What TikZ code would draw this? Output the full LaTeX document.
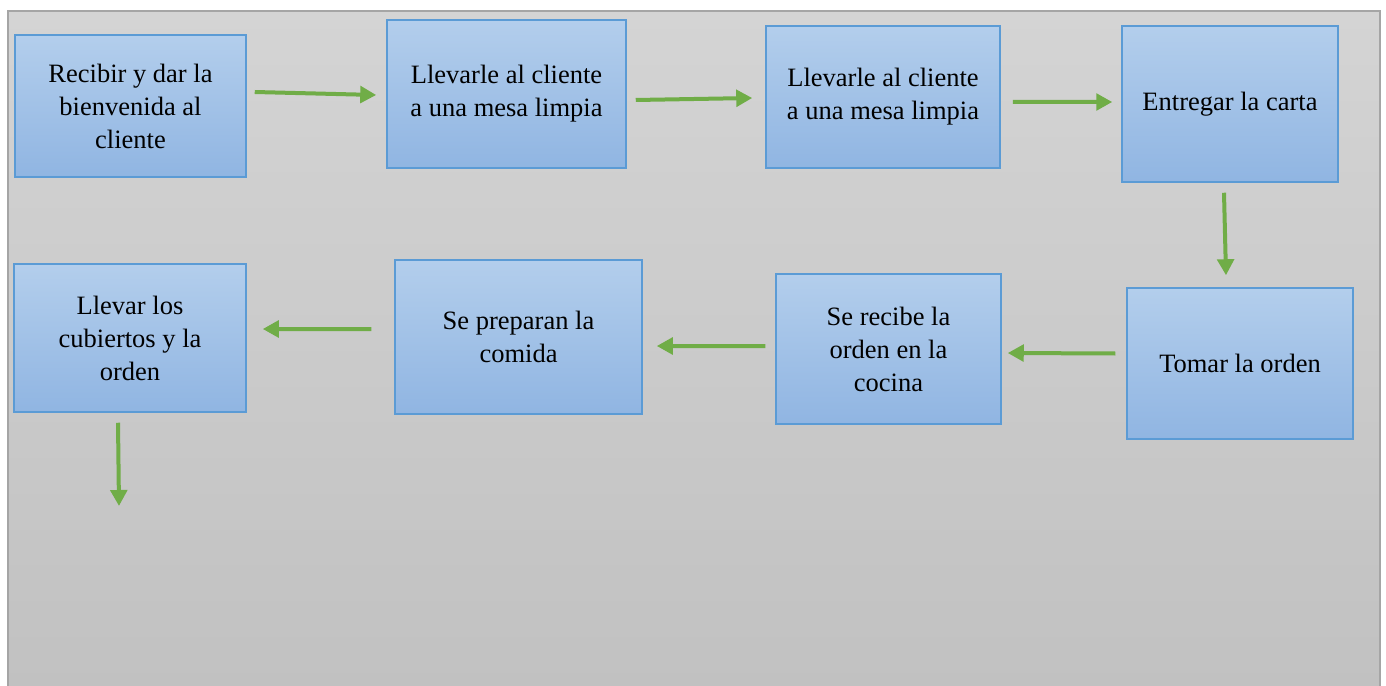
\documentclass[tikz,border=0pt]{standalone}
\usepackage{fontspec}
\setmainfont{Liberation Serif}
\usepackage{tikz}
\usetikzlibrary{arrows.meta}

\definecolor{fondoarriba}{HTML}{D4D4D4}
\definecolor{fondoabajo}{HTML}{C1C1C1}
\definecolor{marco}{HTML}{A5A5A5}
\definecolor{cajaarriba}{HTML}{B3CEEC}
\definecolor{cajaabajo}{HTML}{90B5E2}
\definecolor{bordecaja}{HTML}{5B9BD5}
\definecolor{verde}{HTML}{70AD47}

\tikzset{
  paso/.style={draw=bordecaja, line width=0.6pt, top color=cajaarriba, bottom color=cajaabajo,
    inner sep=0pt, align=center, font=\fontsize{10.6}{13.2}\selectfont},
  flecha/.style={draw=verde, line width=1.6pt, -{Triangle[length=6.4pt,width=6.6pt]}}
}

\begin{document}
\begin{tikzpicture}[x=0.4pt,y=-0.4pt]
          \useasboundingbox (0,0) rectangle (1386,686);
          % fondo
          \shade[top color=fondoarriba, bottom color=fondoabajo] (8,11) rectangle (1380,690);
          \draw[marco, line width=0.8pt] (8,690) -- (8,11) -- (1380,11) -- (1380,690);
          % fila de arriba
          \node[paso, minimum width=92.4pt, minimum height=56.8pt] (recibir) at (130.5,106) {Recibir y dar la\\bienvenida al\\cliente};
          \node[paso, minimum width=95.6pt, minimum height=59.2pt] (mesa1) at (506.5,94) {Llevarle al cliente\\a una mesa limpia};
          \node[paso, minimum width=93.6pt, minimum height=56.8pt] (mesa2) at (883,97) {Llevarle al cliente\\a una mesa limpia};
          \node[paso, minimum width=86.4pt, minimum height=62.4pt] (carta) at (1230,104) {Entregar la carta};
          % fila de abajo
          \node[paso, minimum width=90.4pt, minimum height=60.4pt] (tomar) at (1240,363.5) {Tomar la orden};
          \node[paso, minimum width=90pt, minimum height=60pt] (cocina) at (888.5,349) {Se recibe la\\orden en la\\cocina};
          \node[paso, minimum width=98.8pt, minimum height=61.6pt] (comida) at (518.5,337) {Se preparan la\\comida};
          \node[paso, minimum width=92.8pt, minimum height=59.2pt] (cubiertos) at (130,338) {Llevar los\\cubiertos y la\\orden};
          \coordinate (fin) at (119,506);
          % flechas
          \draw[flecha] ([xshift=3.2pt,yshift=5.6pt]recibir.east) -- ([xshift=-4pt,yshift=-0.4pt]mesa1.west);
          \draw[flecha] ([xshift=3.6pt,yshift=-2.4pt]mesa1.east) -- ([xshift=-5.2pt,yshift=-0.4pt]mesa2.west);
          \draw[flecha] ([xshift=4.8pt,yshift=-2pt]mesa2.east) -- ([xshift=-3.6pt,yshift=0.8pt]carta.west);
          \draw[flecha] ([xshift=-2.4pt,yshift=-4pt]carta.south) -- ([xshift=-5.6pt,yshift=4.8pt]tomar.north);
          \draw[flecha] ([xshift=-4.4pt,yshift=4pt]tomar.west) -- ([xshift=2.4pt,yshift=-1.6pt]cocina.east);
          \draw[flecha] ([xshift=-4pt,yshift=1.2pt]cocina.west) -- ([xshift=5.6pt,yshift=-3.6pt]comida.east);
          \draw[flecha] ([xshift=-9.2pt,yshift=3.2pt]comida.west) -- ([xshift=6.4pt,yshift=3.6pt]cubiertos.east);
          \draw[flecha] ([xshift=-4.8pt,yshift=-4pt]cubiertos.south) -- (fin);
        \end{tikzpicture}
\end{document}
